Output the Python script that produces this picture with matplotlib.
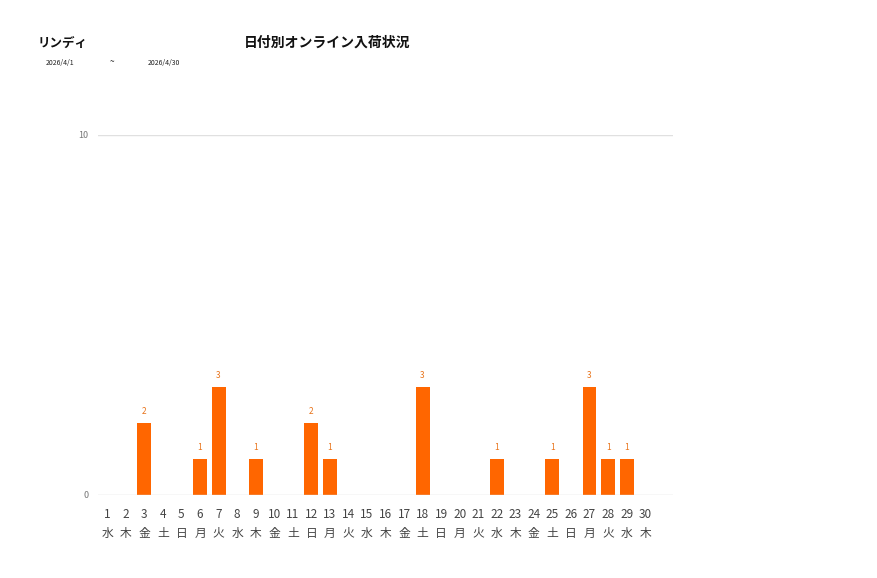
import matplotlib
matplotlib.use("Agg")
import matplotlib.pyplot as plt

plt.rcParams['font.family'] = ['Noto Sans CJK JP', 'DejaVu Sans']

days = list(range(1, 31))
weekdays = ["水","木","金","土","日","月","火","水","木","金","土","日","月","火","水",
            "木","金","土","日","月","火","水","木","金","土","日","月","火","水","木"]
values = [0,0,2,0,0,1,3,0,1,0,0,2,1,0,0,0,0,3,0,0,0,1,0,0,1,0,3,1,1,0]
shop = "リンディ"
title = "日付別オンライン入荷状況"
date_from = "2026/4/1"
date_to = "2026/4/30"

W, H = 877, 578
fig = plt.figure(figsize=(W/100, H/100), dpi=100)
ax = fig.add_axes([98/W, (H-495)/H, (673-98)/W, (495-135)/H])

bar_color = "#FF6600"
ax.bar(days, values, width=0.75, color=bar_color, zorder=3)
for d, v in zip(days, values):
    if v > 0:
        ax.text(d, v + 0.2, str(v), ha='center', va='bottom', fontsize=6, color="#E8731A")

ax.set_xlim(0.5, 31.5)
ax.set_ylim(0, 10)
for s in ax.spines.values():
    s.set_visible(False)
ax.axhline(10, color="#e0e0e0", lw=1, zorder=1)
ax.axhline(0, color="#d9d9d9", lw=1, zorder=4)
ax.set_yticks([0, 10])
ax.set_yticklabels(["0", "10"], fontsize=6.5, color="#777777")
ax.tick_params(axis='y', length=0, pad=7)
ax.set_xticks(days)
ax.set_xticklabels([f"{d}\n{w}" for d, w in zip(days, weekdays)], fontsize=8.5, color="#444444", linespacing=1.55)
ax.tick_params(axis='x', length=0, pad=9.5)

fig.text(38/W, 1 - 43/H, shop, fontsize=9, fontweight='bold', ha='left', va='center', color="#111111")
fig.text(327/W, 1 - 43/H, title, fontsize=10, fontweight='bold', ha='center', va='center', color="#111111")
fig.text(46/W, 1 - 63/H, date_from, fontsize=5, ha='left', va='center', color="#222222")
fig.text(112/W, 1 - 62/H, "~", fontsize=6, ha='center', va='center', color="#222222")
fig.text(148/W, 1 - 63/H, date_to, fontsize=5, ha='left', va='center', color="#222222")

fig.savefig("out.png", dpi=100)
